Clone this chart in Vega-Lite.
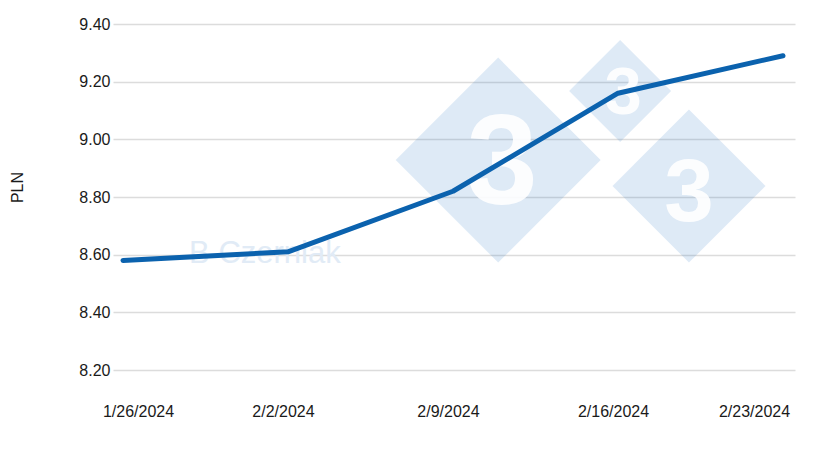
{
  "$schema": "https://vega.github.io/schema/vega-lite/v6.json",
  "width": 682,
  "height": 346,
  "autosize": {"type": "none"},
  "padding": {"left": 113, "top": 24, "right": 25, "bottom": 92},
  "background": "white",
  "encoding": {
    "x": {
      "field": "date",
      "type": "temporal",
      "scale": {
        "domain": [
          {"year": 2024, "month": 1, "date": 25, "hours": 13, "minutes": 50},
          {"year": 2024, "month": 2, "date": 23, "hours": 12, "minutes": 13}
        ]
      },
      "axis": {
        "title": null,
        "values": [
          {"year": 2024, "month": 1, "date": 26},
          {"year": 2024, "month": 2, "date": 2},
          {"year": 2024, "month": 2, "date": 9},
          {"year": 2024, "month": 2, "date": 16},
          {"year": 2024, "month": 2, "date": 23}
        ],
        "format": "%-m/%-d/%Y",
        "grid": false,
        "domain": false,
        "ticks": false,
        "labelPadding": 33,
        "labelAlign": "center",
        "labelOffset": {
          "condition": [
            {"test": "datum.index == 0", "value": 15},
            {"test": "datum.index == 1", "value": -29}
          ],
          "value": -5
        }
      }
    },
    "y": {
      "field": "price",
      "type": "quantitative",
      "scale": {"domain": [8.2, 9.4], "nice": false, "zero": false},
      "axis": {
        "title": "PLN",
        "values": [8.2, 8.4, 8.6, 8.8, 9.0, 9.2, 9.4],
        "format": ".2f",
        "domain": false,
        "ticks": false,
        "labelPadding": 3,
        "gridColor": "#dcdcdc",
        "gridWidth": 1.5,
        "titleX": -96,
        "titleY": 163,
        "titleAngle": 270,
        "titleAlign": "center",
        "titleBaseline": "middle"
      }
    }
  },
  "layer": [
    {
      "data": {"values": [{"date": "2024-02-10 22:00", "price": 8.928}], "format": {"parse": {"date": "date:'%Y-%m-%d %H:%M'"}}},
      "layer": [
        {"mark": {"type": "point", "shape": "diamond", "filled": true, "size": 42000, "fill": "#2f7cc6", "fillOpacity": 0.16, "stroke": null}},
        {"mark": {"type": "text", "text": "3", "font": "Liberation Sans", "fontWeight": "bold", "fontSize": 128, "fill": "white", "fillOpacity": 0.9, "baseline": "middle", "align": "center", "dx": 4, "dy": 6}}
      ]
    },
    {
      "data": {"values": [{"date": "2024-02-16 02:10", "price": 9.168}], "format": {"parse": {"date": "date:'%Y-%m-%d %H:%M'"}}},
      "layer": [
        {"mark": {"type": "point", "shape": "diamond", "filled": true, "size": 10400, "fill": "#2f7cc6", "fillOpacity": 0.16, "stroke": null}},
        {"mark": {"type": "text", "text": "3", "font": "Liberation Sans", "fontWeight": "bold", "fontSize": 67, "fill": "white", "fillOpacity": 0.9, "baseline": "middle", "align": "center", "dx": 3, "dy": 3}}
      ]
    },
    {
      "data": {"values": [{"date": "2024-02-19 00:15", "price": 8.838}], "format": {"parse": {"date": "date:'%Y-%m-%d %H:%M'"}}},
      "layer": [
        {"mark": {"type": "point", "shape": "diamond", "filled": true, "size": 23400, "fill": "#2f7cc6", "fillOpacity": 0.16, "stroke": null}},
        {"mark": {"type": "text", "text": "3", "font": "Liberation Sans", "fontWeight": "bold", "fontSize": 89, "fill": "white", "fillOpacity": 0.9, "baseline": "middle", "align": "center", "dy": 8}}
      ]
    },
    {
      "data": {"values": [{"label": "B Czerniak", "date": "2024-02-01 00:30", "price": 8.602}], "format": {"parse": {"date": "date:'%Y-%m-%d %H:%M'"}}},
      "mark": {"type": "text", "font": "Liberation Sans", "fontSize": 31, "color": "#e1ebf6", "baseline": "middle", "align": "center"},
      "encoding": {"text": {"field": "label"}}
    },
    {
      "data": {
        "values": [
          {"date": "2024-01-26", "price": 8.58},
          {"date": "2024-02-02", "price": 8.61},
          {"date": "2024-02-09", "price": 8.82},
          {"date": "2024-02-16", "price": 9.16},
          {"date": "2024-02-23", "price": 9.29}
        ],
        "format": {"parse": {"date": "date:'%Y-%m-%d'"}}
      },
      "mark": {"type": "line", "color": "#0b62ae", "strokeWidth": 5, "strokeCap": "round", "strokeJoin": "round"}
    }
  ],
  "config": {
    "view": {"stroke": null},
    "axis": {
      "labelFont": "Liberation Sans",
      "labelFontSize": 16,
      "labelColor": "#1a1a1a",
      "titleFont": "Liberation Sans",
      "titleFontSize": 16,
      "titleFontWeight": "normal",
      "titleColor": "#1a1a1a"
    }
  }
}
